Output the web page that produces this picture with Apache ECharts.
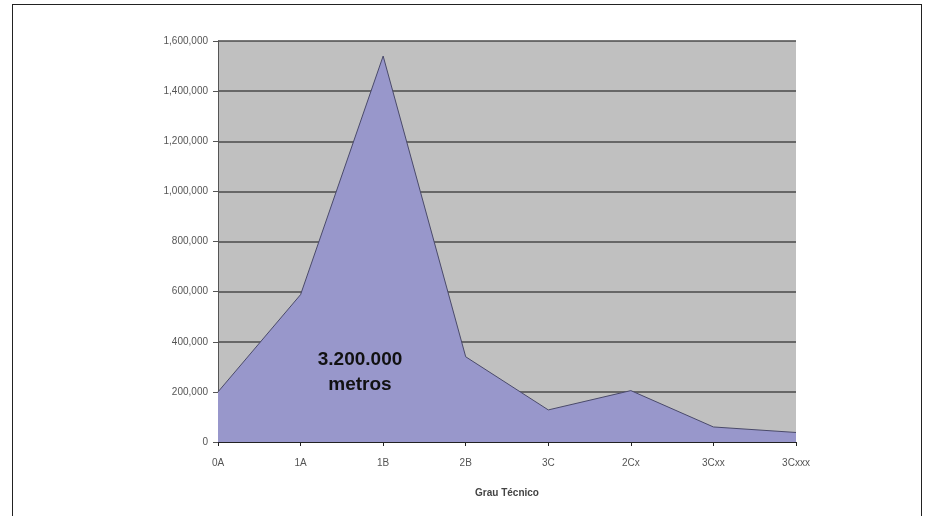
<!DOCTYPE html>
<html>
<head>
<meta charset="utf-8">
<script src="https://cdn.jsdelivr.net/npm/echarts@6/dist/echarts.min.js"></script>
<style>
  html, body { margin: 0; padding: 0; background: #ffffff; }
  #frame { position: absolute; left: 12px; top: 4px; width: 910px; height: 520px; border: 1px solid #222; box-sizing: border-box; }
  #chart { position: absolute; left: 0; top: 0; width: 928px; height: 516px; }
</style>
</head>
<body>
<div id="frame"></div>
<div id="chart"></div>
<script>
// Technical grade categories and metres climbed per grade
const grades = ['0A', '1A', '1B', '2B', '3C', '2Cx', '3Cxx', '3Cxxx'];
const metres = [200000, 588000, 1540000, 340000, 128000, 205000, 60000, 38000];
const yTicks = [0, 200000, 400000, 600000, 800000, 1000000, 1200000, 1400000, 1600000];

const fmt = v => v.toLocaleString('en-US');

const chart = echarts.init(document.getElementById('chart'), null, { renderer: 'canvas' });
chart.setOption({
  animation: false,
  backgroundColor: 'transparent',
  textStyle: { fontFamily: 'Liberation Sans, Arial, sans-serif' },
  grid: {
    left: 218, right: 132, top: 41, bottom: 74,
    show: true, backgroundColor: '#c0c0c0', borderWidth: 0
  },
  xAxis: {
    type: 'category',
    data: grades,
    boundaryGap: false,
    name: 'Grau Técnico',
    nameLocation: 'middle',
    nameGap: 46,
    nameTextStyle: { fontSize: 10, fontWeight: 'bold', color: '#444' },
    axisLine: { lineStyle: { color: '#222', width: 1 } },
    axisTick: { show: true, length: 4, lineStyle: { color: '#222' } },
    axisLabel: { fontSize: 10, color: '#555', margin: 16 },
    splitLine: { show: false }
  },
  yAxis: {
    type: 'value',
    min: 0,
    max: yTicks[yTicks.length - 1],
    interval: yTicks[1] - yTicks[0],
    axisLine: { show: true, lineStyle: { color: '#555', width: 1 } },
    axisTick: { show: true, length: 5, lineStyle: { color: '#555' } },
    axisLabel: { fontSize: 10, color: '#555', margin: 10, formatter: v => fmt(v) },
    splitLine: { show: true, lineStyle: { color: '#4a4a4a', width: 1.5 } }
  },
  series: [{
    type: 'line',
    data: metres,
    symbol: 'none',
    lineStyle: { color: '#4a4a6a', width: 1 },
    areaStyle: { color: '#9897cb', opacity: 1 },
    z: 3
  }],
  graphic: [{
    type: 'text',
    x: 360,
    y: 347,
    z: 10,
    style: {
      text: '3.200.000\nmetros',
      fill: '#111',
      font: 'bold 19px Liberation Sans, Arial, sans-serif',
      align: 'center',
      verticalAlign: 'top',
      lineHeight: 25
    }
  }]
});
</script>
</body>
</html>
